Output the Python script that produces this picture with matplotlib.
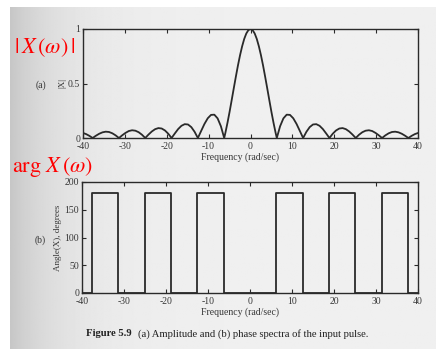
import numpy as np
import matplotlib
matplotlib.use("Agg")
import matplotlib.pyplot as plt

# |X(w)|: lobe zeros, arches and the main lobe
mag_w = [
    -40.0, -39.27, -38.485, -37.699,
    -36.914, -36.128, -35.343, -34.558, -33.772, -32.987, -32.201, -31.416,
    -30.631, -29.845, -29.06, -28.274, -27.489, -26.704, -25.918, -25.133,
    -24.347, -23.562, -22.777, -21.991, -21.206, -20.42, -19.635, -18.85,
    -18.064, -17.279, -16.493, -15.708, -14.923, -14.137, -13.352, -12.566,
    -11.781, -10.996, -10.21, -9.425, -8.639, -7.854, -7.069, -6.283,
    -6.0, -5.5, -5.0, -4.5, -4.0, -3.5, -3.0, -2.5, -2.0, -1.5, -1.0, -0.5,
    0.0,
    0.5, 1.0, 1.5, 2.0, 2.5, 3.0, 3.5, 4.0, 4.5, 5.0, 5.5, 6.0,
    6.283, 7.069, 7.854, 8.639, 9.425, 10.21, 10.996, 11.781,
    12.566, 13.352, 14.137, 14.923, 15.708, 16.493, 17.279, 18.064,
    18.85, 19.635, 20.42, 21.206, 21.991, 22.777, 23.562, 24.347,
    25.133, 25.918, 26.704, 27.489, 28.274, 29.06, 29.845, 30.631,
    31.416, 32.201, 32.987, 33.772, 34.558, 35.343, 36.128, 36.914,
    37.699, 38.485, 39.27, 40.0,
]
mag = [
    0.046, 0.036, 0.020, 0.0,
    0.021, 0.039, 0.052, 0.058, 0.055, 0.043, 0.024, 0.0,
    0.025, 0.047, 0.064, 0.071, 0.067, 0.053, 0.030, 0.0,
    0.032, 0.060, 0.081, 0.091, 0.087, 0.069, 0.039, 0.0,
    0.042, 0.082, 0.112, 0.127, 0.124, 0.100, 0.057, 0.0,
    0.065, 0.129, 0.181, 0.212, 0.214, 0.180, 0.108, 0.0,
    0.047, 0.139, 0.239, 0.346, 0.455, 0.562, 0.665, 0.759, 0.841, 0.909, 0.959, 0.990,
    1.0,
    0.990, 0.959, 0.909, 0.841, 0.759, 0.665, 0.562, 0.455, 0.346, 0.239, 0.139, 0.047,
    0.0, 0.108, 0.180, 0.214, 0.212, 0.181, 0.129, 0.065,
    0.0, 0.057, 0.100, 0.124, 0.127, 0.112, 0.082, 0.042,
    0.0, 0.039, 0.069, 0.087, 0.091, 0.081, 0.060, 0.032,
    0.0, 0.030, 0.053, 0.067, 0.071, 0.064, 0.047, 0.025,
    0.0, 0.024, 0.043, 0.055, 0.058, 0.052, 0.039, 0.021,
    0.0, 0.020, 0.036, 0.046,
]

# phase of panel (b): jumps between 0 and 180 degrees
phase_w = [-40, -37.7, -37.7, -31.4, -31.4, -25.1, -25.1, -18.8, -18.8,
           -12.6, -12.6, -6.3, -6.3, 6.3, 6.3, 12.6, 12.6, 18.8, 18.8,
           25.1, 25.1, 31.4, 31.4, 37.7, 37.7, 40]
phase_deg = [0, 0, 180, 180, 0, 0, 180, 180, 0, 0, 180, 180, 0, 0, 180,
             180, 0, 0, 180, 180, 0, 0, 180, 180, 0, 0]

x_ticks = [-40, -30, -20, -10, 0, 10, 20, 30, 40]
mag_ticks = [0, 0.5, 1]
mag_tick_labels = ["0", "0.5", "1"]
phase_ticks = [0, 50, 100, 150, 200]

plt.rcParams["font.family"] = ["Liberation Serif", "DejaVu Serif"]
plt.rcParams["mathtext.fontset"] = "stix"
plt.rcParams["axes.unicode_minus"] = False

INK = "#2a2a2a"
TXT = "#363636"

fig = plt.figure(figsize=(4.36, 3.49), dpi=100, facecolor="white")

# scanned page background with shadow on the left
bg = fig.add_axes([10 / 436, 0, 1 - 10 / 436, 1 - 7 / 349], zorder=-10)
cols = np.linspace(0, 1, 400)
shade = 0.94 - 0.16 * np.exp(-cols / 0.12)
bg.imshow(np.tile(shade, (10, 1)), cmap="gray", vmin=0, vmax=1,
          aspect="auto", extent=[0, 1, 0, 1])
bg.set_axis_off()


def style(ax):
    ax.set_facecolor("none")
    for s in ax.spines.values():
        s.set_color(INK)
        s.set_linewidth(1.0)
    ax.tick_params(direction="in", top=True, right=True, length=3,
                   width=0.8, color=INK, labelsize=7, labelcolor=TXT, pad=2)
    ax.tick_params(axis="x", pad=3)
    ax.set_xlim(-40, 40)
    ax.set_xticks(x_ticks)
    ax.set_xticklabels([str(t) for t in x_ticks])
    ax.set_xlabel("Frequency (rad/sec)", fontsize=7, color=TXT, labelpad=1)
    ax.xaxis.set_label_coords(0.47, -0.13)


ax1 = fig.add_axes([83 / 436, 1 - 138 / 349, 335 / 436, 109 / 349])
ax1.plot(mag_w, mag, color=INK, lw=1.3)
style(ax1)
ax1.set_ylim(0, 1)
ax1.set_yticks(mag_ticks)
ax1.set_yticklabels(mag_tick_labels)
ax1.set_ylabel("|X|", fontsize=6.5, color=TXT, labelpad=1)
fig.text(41 / 436, 1 - 85 / 349, "(a)", fontsize=7, color=TXT,
         ha="center", va="center")

ax2 = fig.add_axes([82 / 436, 1 - 293 / 349, 336 / 436, 111 / 349])
ax2.plot(phase_w, phase_deg, color=INK, lw=1.3)
style(ax2)
ax2.set_ylim(0, 200)
ax2.set_yticks(phase_ticks)
ax2.set_yticklabels([str(t) for t in phase_ticks])
ax2.set_ylabel("Angle(X), degrees", fontsize=6.5, color=TXT, labelpad=2)
fig.text(40 / 436, 1 - 240 / 349, "(b)", fontsize=7, color=TXT,
         ha="center", va="center")

# red annotations
fig.text(14 / 436, 1 - 48 / 349, r"$|\,X\,(\omega)\,|$", color="red",
         fontsize=16, ha="left", va="center")
fig.text(12 / 436, 1 - 167 / 349, r"$\mathrm{arg}\ X\,(\omega)$", color="red",
         fontsize=16, ha="left", va="center")

# caption
fig.text(86 / 436, 1 - 334 / 349, "Figure 5.9", fontsize=7.7, fontweight="bold",
         color="#222222", ha="left", va="center")
fig.text(138 / 436, 1 - 334 / 349,
         "(a) Amplitude and (b) phase spectra of the input pulse.",
         fontsize=7.7, color="#222222", ha="left", va="center")

fig.savefig("out.png", dpi=100, facecolor="white")
